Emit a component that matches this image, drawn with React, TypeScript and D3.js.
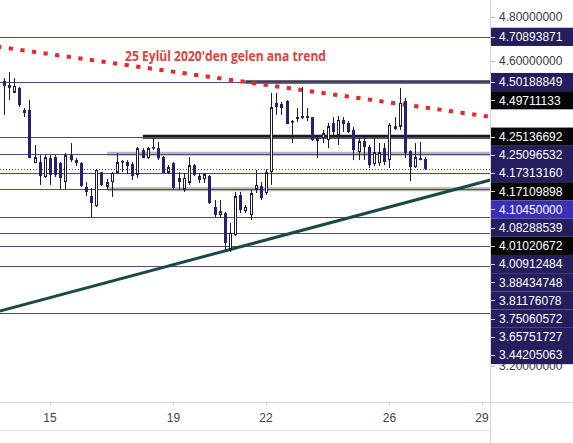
import React from 'react';
import * as d3 from 'd3';

const W = 573;
const H = 443;

// 4h candles, first bar at day 13 12:00
const barStartDay = 13.5;
const barsPerDay = 6;

const opens = [4.507,4.488,4.452,4.475,4.374,4.374,4.130,4.135,4.066,4.153,
4.158,4.130,4.043,4.167,4.144,4.130,4.021,3.979,3.933,4.089,
4.021,4.043,4.085,4.135,4.117,4.126,4.076,4.190,4.153,4.199,
4.199,4.158,4.085,4.130,4.062,4.007,4.039,4.121,4.071,4.057,
4.071,3.929,3.892,3.901,3.732,3.800,3.984,3.910,3.892,4.007,
4.025,3.993,4.089,4.406,4.383,4.415,4.319,4.332,4.346,4.346,
4.341,4.231,4.245,4.236,4.314,4.259,4.328,4.314,4.282,4.181,
4.231,4.204,4.126,4.130,4.199,4.144,4.300,4.296,4.415,4.185,
4.112,4.153,4.149];

const highs = [4.520,4.548,4.520,4.479,4.383,4.419,4.213,4.167,4.167,4.167,
4.167,4.135,4.176,4.222,4.153,4.135,4.043,4.016,4.103,4.089,
4.057,4.089,4.176,4.144,4.144,4.135,4.204,4.199,4.204,4.245,
4.227,4.163,4.121,4.135,4.089,4.085,4.158,4.126,4.085,4.085,
4.076,3.961,3.961,3.906,3.855,3.998,3.998,3.938,4.007,4.099,
4.043,4.103,4.452,4.452,4.410,4.419,4.328,4.383,4.479,4.383,
4.341,4.254,4.282,4.314,4.341,4.346,4.341,4.323,4.296,4.245,
4.250,4.213,4.245,4.222,4.222,4.314,4.341,4.475,4.429,4.190,
4.222,4.227,4.158];

const lows = [4.351,4.419,4.452,4.387,4.341,4.153,4.130,4.030,4.062,4.030,
4.066,4.011,4.011,4.135,4.117,4.021,3.979,3.883,3.929,4.025,
4.011,3.975,4.085,4.089,4.080,4.053,4.062,4.153,4.149,4.190,
4.144,4.085,4.080,4.007,4.007,3.998,4.030,4.071,4.039,4.039,
3.943,3.883,3.878,3.732,3.723,3.796,3.901,3.901,3.869,3.993,
3.961,3.984,4.030,4.351,4.351,4.309,4.222,4.319,4.332,4.323,
4.231,4.153,4.222,4.199,4.254,4.213,4.273,4.268,4.144,4.144,
4.144,4.108,4.117,4.117,4.121,4.108,4.282,4.282,4.153,4.048,
4.108,4.144,4.099];

const closes = [4.484,4.475,4.484,4.396,4.360,4.153,4.158,4.071,4.158,4.076,
4.076,4.062,4.167,4.144,4.130,4.025,3.998,3.947,4.099,4.030,
4.043,4.085,4.135,4.140,4.135,4.071,4.199,4.153,4.199,4.204,
4.153,4.085,4.112,4.016,4.043,4.062,4.121,4.076,4.053,4.080,
3.947,3.892,3.910,3.764,3.810,3.979,3.915,3.929,3.993,4.030,
3.970,4.089,4.387,4.387,4.401,4.309,4.323,4.341,4.337,4.337,
4.236,4.245,4.268,4.300,4.273,4.328,4.309,4.273,4.190,4.231,
4.204,4.121,4.181,4.181,4.135,4.305,4.287,4.406,4.176,4.112,
4.158,4.144,4.104];

const dayTicks = [15, 19, 22, 26, 29];
const priceTicks = [4.8, 4.6, 3.2];

const hLevels = [4.70893871, 4.50188849, 4.25136692, 4.17313160, 4.08288539,
  4.01020672, 3.88434748, 3.81176078, 3.75060572, 3.65751727, 3.44205063];

const rayLevels = [4.50188849, 4.25136692, 4.17313160, 4.01020672];
const rayStartDays = [21.33, 18.01, 16.85, 16.88];

const lastPrice = 4.1045;

const markerValues = [4.70893871, 4.50188849, 4.49711133, 4.25136692, 4.25096532,
  4.17313160, 4.17109898, 4.10450000, 4.08288539, 4.01020672, 4.00912484,
  3.88434748, 3.81176078, 3.75060572, 3.65751727, 3.44205063];
const markerKinds = ['line', 'line', 'dark', 'dark', 'line', 'line', 'dark', 'last',
  'line', 'dark', 'line', 'line', 'line', 'line', 'line', 'line'];

const redTrendDays = [13.0, 29.286];
const redTrendPrices = [4.670, 4.342];
const tealTrendDays = [13.0, 29.286];
const tealTrendPrices = [3.438, 4.053];

const annotation = "25 Eylül 2020'den gelen ana trend";

// styles (not data)
const rayStyles = [
  { c: '#3a3a3a', w: 3.5 },
  { c: '#1a1a1a', w: 4 },
  { c: '#b5b5b5', w: 4 },
  { c: '#b5b5b5', w: 4 },
];
const kindFill: Record<string, string> = {
  line: '#241d5e',
  dark: '#060606',
  last: '#3a2fb8',
};

const PLOT_R = 490;
const BOX_H = 18.2;

export default function App() {
  const x = d3.scaleLinear().domain([15, 29]).range([50, 482]);
  const y = d3.scaleLinear().domain([3.2, 4.8]).range([366, 17]);
  const fmt = d3.format('.8f');

  const candles = opens.map((o, i) => {
    const d = barStartDay + i / barsPerDay;
    return { d, o, h: highs[i], l: lows[i], c: closes[i] };
  });

  // stacked label positions
  let prev = -Infinity;
  const markers = markerValues.map((v, i) => {
    const py = Math.max(y(v), prev + BOX_H);
    prev = py;
    return { v, kind: markerKinds[i], py };
  });

  const line2 = d3.line<[number, number]>().x((p) => x(p[0])).y((p) => y(p[1]));
  const redPts: [number, number][] = redTrendDays.map((d, i) => [d, redTrendPrices[i]]);
  const tealPts: [number, number][] = tealTrendDays.map((d, i) => [d, tealTrendPrices[i]]);

  const font = '"Liberation Sans", Arial, sans-serif';

  return (
    <svg width={W} height={H} style={{ position: 'absolute', left: 0, top: 0, background: '#fff' }}>
      <defs>
        <clipPath id="plot">
          <rect x={0} y={0} width={PLOT_R} height={402} />
        </clipPath>
      </defs>
      <rect x={0} y={0} width={W} height={H} fill="#fff" />
      <g clipPath="url(#plot)">
        {/* thick rays */}
        {rayLevels.map((v, i) => (
          <line key={'r' + i} x1={x(rayStartDays[i])} x2={PLOT_R} y1={y(v)} y2={y(v)}
            stroke={rayStyles[i].c} strokeWidth={rayStyles[i].w} />
        ))}
        {/* horizontal levels */}
        {hLevels.map((v, i) => (
          <line key={'h' + i} x1={0} x2={PLOT_R} y1={Math.round(y(v)) + 0.5} y2={Math.round(y(v)) + 0.5}
            stroke="#4e4c78" strokeWidth={1} />
        ))}
        {/* last price dotted */}
        <line x1={0} x2={PLOT_R} y1={Math.round(y(lastPrice)) + 0.5} y2={Math.round(y(lastPrice)) + 0.5}
          stroke="#555" strokeWidth={1} strokeDasharray="1 2" />
        {/* teal trend */}
        <path d={line2(tealPts) || ''} stroke="#1b4a46" strokeWidth={3} fill="none" />
        {/* red dotted trend */}
        <path d={line2(redPts) || ''} stroke="#e8262b" strokeWidth={4} fill="none"
          strokeDasharray="4.2 7.5" strokeDashoffset={-9} />
        {/* candles */}
        {candles.map((k, i) => {
          const cx = Math.round(x(k.d));
          const up = k.c >= k.o;
          const top = y(Math.max(k.o, k.c));
          const bot = y(Math.min(k.o, k.c));
          const bh = Math.max(1, bot - top);
          return (
            <g key={'c' + i}>
              <line x1={cx + 0.5} x2={cx + 0.5} y1={y(k.h)} y2={y(k.l)} stroke="#1d1a3f" strokeWidth={1} />
              {up ? (
                <rect x={cx - 0.5} y={top + 0.5} width={2} height={Math.max(0.5, bh - 1)}
                  fill="#fff" stroke="#1d1a3f" strokeWidth={1} />
              ) : (
                <rect x={cx - 1} y={top} width={3} height={bh} fill="#262070" />
              )}
            </g>
          );
        })}
        <text x={125} y={61} fill="#e4413b" fontFamily='"Open Sans", sans-serif' fontWeight={700}
          fontSize={14} textLength={201} lengthAdjust="spacingAndGlyphs">{annotation}</text>
      </g>

      {/* axes frame */}
      <line x1={PLOT_R + 0.5} x2={PLOT_R + 0.5} y1={0} y2={H} stroke="#d8d8d8" />
      <line x1={0} x2={W} y1={402.5} y2={402.5} stroke="#d8d8d8" />
      <line x1={0} x2={PLOT_R} y1={430.5} y2={430.5} stroke="#e2e2e2" />

      {/* time ticks */}
      {dayTicks.map((d) => (
        <g key={'t' + d}>
          <line x1={Math.round(x(d)) + 0.5} x2={Math.round(x(d)) + 0.5} y1={403} y2={406} stroke="#cfcfcf" />
          <text x={x(d)} y={422} textAnchor="middle" fontFamily={font} fontSize={12} fill="#444">{d}</text>
        </g>
      ))}

      {/* price ticks */}
      {priceTicks.map((p) => (
        <g key={'p' + p}>
          <line x1={PLOT_R + 1} x2={PLOT_R + 5} y1={Math.round(y(p)) + 0.5} y2={Math.round(y(p)) + 0.5} stroke="#bbb" />
          <text x={499} y={y(p) + 4.3} fontFamily={font} fontSize={12} fill="#3a3a3a">{fmt(p)}</text>
        </g>
      ))}

      {/* price markers */}
      {markers.map((m, i) => (
        <g key={'m' + i}>
          <rect x={PLOT_R + 1} y={m.py - BOX_H / 2} width={W - PLOT_R - 1} height={BOX_H} fill={kindFill[m.kind]} />
          <line x1={PLOT_R + 1} x2={PLOT_R + 5} y1={Math.round(m.py) + 0.5} y2={Math.round(m.py) + 0.5} stroke="#cfcfe0" />
          <text x={499} y={m.py + 4.3} fontFamily={font} fontSize={12} fill="#fff">{fmt(m.v)}</text>
        </g>
      ))}
    </svg>
  );
}
